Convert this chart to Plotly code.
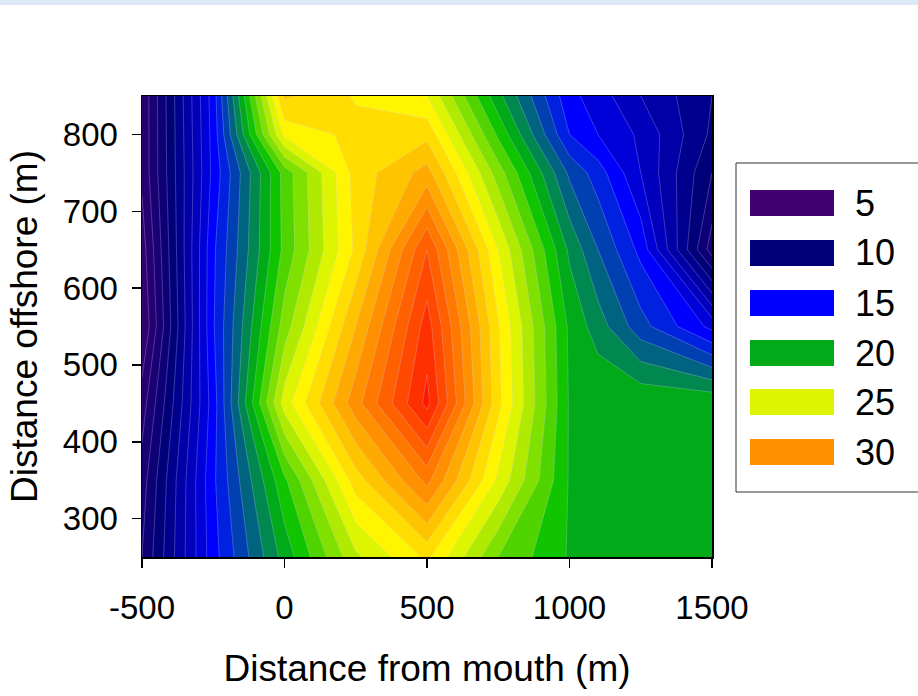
import plotly.graph_objects as go

# ---------------- data ----------------
x_nodes = [-500, -250, 0, 250, 500, 750, 1000, 1100, 1250, 1500]
y_nodes = [250, 350, 450, 550, 650, 750, 800, 850]

z_250 = [9.0, 15.6, 20.4, 24.8, 27.2, 23.0, 20.9, 20.9, 20.9, 20.9]
z_350 = [8.5, 15.8, 21.8, 27.5, 31.3, 25.8, 20.9, 20.9, 20.9, 20.9]
z_450 = [7.5, 15.5, 25.5, 30.6, 35.3, 27.3, 20.9, 20.9, 20.9, 20.9]
z_550 = [6.0, 15.9, 23.5, 29.0, 34.5, 27.1, 20.8, 19.5, 17.4, 14.7]
z_650 = [6.5, 15.8, 22.3, 27.2, 33.0, 26.0, 19.8, 18.0, 15.7, 8.5]
z_750 = [7.2, 15.3, 22.4, 27.4, 29.4, 23.5, 17.8, 16.5, 14.0, 10.0]
z_800 = [7.2, 15.4, 26.3, 27.3, 27.7, 21.8, 16.0, 15.0, 13.8, 10.8]
z_850 = [7.2, 15.5, 28.2, 26.9, 26.0, 20.3, 15.3, 14.5, 13.0, 11.0]

legend_values = [5, 10, 15, 20, 25, 30]
x_ticks = [-500, 0, 500, 1000, 1500]
y_ticks = [300, 400, 500, 600, 700, 800]

# colour of each 1-unit band, keyed by its lower bound
band_colors = {
    4: "#4a0070", 5: "#400070", 6: "#330072", 7: "#260073", 8: "#1a0075",
    9: "#0d0076", 10: "#000078", 11: "#00008f", 12: "#0000a6", 13: "#0000bd",
    14: "#0000d8", 15: "#0000ff", 16: "#0022e0", 17: "#0040b0", 18: "#006480",
    19: "#008850", 20: "#00aa18", 21: "#10c400", 22: "#50d400", 23: "#80e000",
    24: "#b0ea00", 25: "#ddf500", 26: "#fff500", 27: "#ffdd00", 28: "#ffc400",
    29: "#ffaa00", 30: "#ff9000", 31: "#ff7800", 32: "#ff6000", 33: "#ff4800",
    34: "#ff3000", 35: "#ff1800",
}

z = [z_250, z_350, z_450, z_550, z_650, z_750, z_800, z_850]

c_start, c_end, c_size = 5, 35, 1
nc = int((c_end - c_start) / c_size) + 1
colorscale = []
for k in range(nc + 1):
    colorscale.append([k / nc, band_colors[c_start - 1 + k]])

fig = go.Figure()
fig.add_trace(go.Contour(
    x=x_nodes, y=y_nodes, z=z,
    autocontour=False,
    contours=dict(start=c_start, end=c_end, size=c_size, coloring="fill"),
    colorscale=colorscale,
    showscale=False,
    line=dict(width=0.6, color="rgba(215,215,255,0.45)", smoothing=0),
    hoverinfo="skip",
))

# ---------------- layout helpers (page margin removed below) ----------------
W, H = 918, 696
PL, PR, PT, PB = 142, 712, 96, 557


def px_x(p):
    return (p - PL) / (PR - PL)


def px_y(p):
    return (PB - p) / (PB - PT)


shapes = []
annotations = []

# light slide-background strip along the very top
shapes.append(dict(type="rect", xref="paper", yref="paper",
                   x0=px_x(0), x1=px_x(W), y0=px_y(5), y1=px_y(0),
                   fillcolor="#dde9f7", line=dict(width=0), layer="below"))

# legend box
shapes.append(dict(type="rect", xref="paper", yref="paper",
                   x0=px_x(736), x1=px_x(940), y0=px_y(492), y1=px_y(163),
                   fillcolor="white", line=dict(color="#333333", width=1)))

sw_top = [190, 240, 290, 340, 389, 439]
for v, top in zip(legend_values, sw_top):
    shapes.append(dict(type="rect", xref="paper", yref="paper",
                       x0=px_x(750), x1=px_x(834), y0=px_y(top + 26), y1=px_y(top),
                       fillcolor=band_colors[v], line=dict(width=0)))
    annotations.append(dict(xref="paper", yref="paper", x=px_x(853), y=px_y(top + 13),
                            text=str(v), showarrow=False, xanchor="left", yanchor="middle",
                            font=dict(family="Liberation Sans, Arial, sans-serif", size=36, color="black")))

fig.update_layout(
    width=W, height=H,
    margin=dict(l=PL, r=W - PR, t=PT, b=H - PB, pad=0),
    paper_bgcolor="white", plot_bgcolor="white",
    showlegend=False,
    shapes=shapes, annotations=annotations,
    font=dict(family="Liberation Sans, Arial, sans-serif", color="black"),
)
fig.update_xaxes(
    range=[-500, 1500], tickvals=x_ticks, ticktext=[str(t) for t in x_ticks],
    ticks="outside", ticklen=9, tickwidth=1.5, tickcolor="black",
    ticklabelstandoff=12,
    showline=True, linecolor="black", linewidth=1.5, mirror=True,
    showgrid=False, zeroline=False,
    tickfont=dict(size=33, family="Liberation Sans, Arial, sans-serif"),
    title=dict(text="Distance from mouth (m)", standoff=30,
               font=dict(size=37, family="Liberation Sans, Arial, sans-serif")),
)
fig.update_yaxes(
    range=[250, 850], tickvals=y_ticks, ticktext=[str(t) for t in y_ticks],
    ticks="outside", ticklen=9, tickwidth=1.5, tickcolor="black",
    ticklabelstandoff=7,
    showline=True, linecolor="black", linewidth=1.5, mirror=True,
    showgrid=False, zeroline=False,
    tickfont=dict(size=33, family="Liberation Sans, Arial, sans-serif"),
    title=dict(text="Distance offshore (m)", standoff=14,
               font=dict(size=37, family="Liberation Sans, Arial, sans-serif")),
)

fig.write_html("out.html",
               config={"displayModeBar": False, "staticPlot": True},
               post_script="document.body.style.margin='0px';document.body.style.overflow='hidden';")
